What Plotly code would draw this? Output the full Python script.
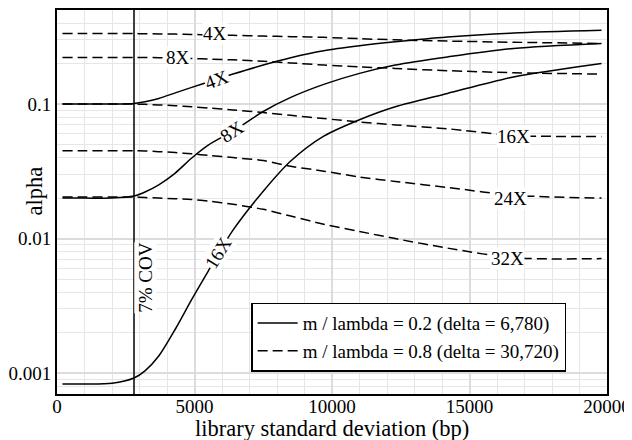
import math
import plotly.graph_objects as go

# ---- data ----
x_bp = [200, 1000, 2000, 2800, 3200, 3700, 4300, 4900, 5500, 6400, 7500, 8500, 9700, 11000, 12300, 14200, 16600, 19800]

# m / lambda = 0.2 (solid)
solid_4x = [0.100, 0.100, 0.100, 0.101, 0.104, 0.110, 0.121, 0.133, 0.146, 0.167, 0.195, 0.221, 0.249, 0.271, 0.290, 0.315, 0.337, 0.353]
solid_8x = [0.0200, 0.0200, 0.0200, 0.0207, 0.0222, 0.0251, 0.0307, 0.0397, 0.0495, 0.0630, 0.088, 0.112, 0.140, 0.169, 0.195, 0.224, 0.259, 0.282]
solid_16x = [0.00083, 0.00083, 0.00084, 0.00092, 0.00104, 0.00134, 0.00212, 0.00353, 0.00574, 0.01155, 0.0225, 0.0377, 0.0577, 0.0765, 0.0955, 0.120, 0.159, 0.200]

# m / lambda = 0.8 (dashed)
dashed_4x = [0.334, 0.334, 0.334, 0.334, 0.333, 0.332, 0.331, 0.329, 0.327, 0.324, 0.320, 0.317, 0.313, 0.306, 0.300, 0.294, 0.288, 0.282]
dashed_8x = [0.222, 0.222, 0.222, 0.222, 0.222, 0.221, 0.220, 0.218, 0.216, 0.213, 0.208, 0.202, 0.195, 0.189, 0.184, 0.177, 0.171, 0.167]
dashed_16x = [0.100, 0.100, 0.100, 0.100, 0.0995, 0.0985, 0.0972, 0.0955, 0.0935, 0.0905, 0.0865, 0.0825, 0.078, 0.0735, 0.0700, 0.0655, 0.0585, 0.0573]
dashed_24x = [0.045, 0.045, 0.045, 0.045, 0.0448, 0.0443, 0.0436, 0.0427, 0.0415, 0.0400, 0.0380, 0.0345, 0.0317, 0.0287, 0.0266, 0.0240, 0.0210, 0.0200]
dashed_32x = [0.0204, 0.0204, 0.0204, 0.0204, 0.0202, 0.0200, 0.0198, 0.0195, 0.0190, 0.0180, 0.0165, 0.0147, 0.0128, 0.0113, 0.0100, 0.0085, 0.0072, 0.0071]

cov_x = 2800
cov_label = "7% COV"

legend_solid = "m / lambda = 0.2 (delta = 6,780)"
legend_dashed = "m / lambda = 0.8 (delta = 30,720)"

x_title = "library standard deviation (bp)"
y_title = "alpha"

x_ticks = [0, 5000, 10000, 15000, 20000]
x_tick_text = ["0", "5000", "10000", "15000", "20000"]
y_ticks = [0.001, 0.01, 0.1]
y_tick_text = ["0.001", "0.01", "0.1"]

# curve labels: (text, x, y, angle)
curve_labels = [
    ("4X", 5756, 0.336, 0),
    ("8X", 4411, 0.221, 0),
    ("4X", 5829, 0.151, -20),
    ("8X", 6364, 0.0624, -33),
    ("16X", 5876, 0.00783, -58),
    ("16X", 16593, 0.0571, 0),
    ("24X", 16484, 0.0198, 0),
    ("32X", 16375, 0.00711, 0),
]

FONT = "Liberation Serif"
FS = 19
FS_TITLE = 22.5

fig = go.Figure()

solid_series = [solid_4x, solid_8x, solid_16x]
dashed_series = [dashed_4x, dashed_8x, dashed_16x, dashed_24x, dashed_32x]

for i, ys in enumerate(solid_series):
    fig.add_trace(go.Scatter(
        x=x_bp, y=ys, mode="lines", line=dict(color="black", width=1.5, shape="spline", smoothing=0.8),
        name=legend_solid, showlegend=(i == 0), legendgroup="solid"))
for i, ys in enumerate(dashed_series):
    fig.add_trace(go.Scatter(
        x=x_bp, y=ys, mode="lines", line=dict(color="black", width=1.5, dash="10px,5px", shape="spline", smoothing=0.8),
        name=legend_dashed, showlegend=(i == 0), legendgroup="dashed"))

fig.add_vline(x=cov_x, line=dict(color="black", width=1.5))

for text, xv, yv, ang in curve_labels:
    fig.add_annotation(x=xv, y=math.log10(yv), text=text, showarrow=False, textangle=ang,
                       bgcolor="white", borderpad=0, font=dict(family=FONT, size=FS, color="black"))

fig.add_annotation(x=3211, y=-2.289, text=cov_label, showarrow=False, textangle=-90,
                   bgcolor="white", borderpad=0, font=dict(family=FONT, size=FS, color="black"))

# axis titles placed as in the reference
fig.add_annotation(x=-0.067, y=0.529, xref="paper", yref="paper", text=y_title, showarrow=False,
                   textangle=-90, font=dict(family=FONT, size=FS_TITLE, color="black"))
fig.add_annotation(x=0.5, y=-0.091, xref="paper", yref="paper", yanchor="middle", text=x_title,
                   showarrow=False, font=dict(family=FONT, size=FS_TITLE, color="black"))

minor_y = [m * 10 ** e for e in (-4, -3, -2, -1) for m in range(2, 10)]

fig.update_layout(
    width=632, height=440,
    margin=dict(l=49, r=33, t=2, b=54),
    paper_bgcolor="white", plot_bgcolor="white",
    font=dict(family=FONT, size=FS, color="black"),
    showlegend=True,
    legend=dict(x=0.353, y=0.148, xanchor="left", yanchor="middle",
                bgcolor="white", bordercolor="black", borderwidth=1.5,
                font=dict(family=FONT, size=FS), tracegroupgap=0, itemwidth=40),
    xaxis=dict(range=[0, 20000], tickvals=x_ticks, ticktext=x_tick_text, ticks="", showline=True,
               linecolor="black", automargin=False, ticklabelstandoff=-6,
               linewidth=2, mirror=True, showgrid=True, gridcolor="#dcdcdc", gridwidth=2,
               zeroline=False, tickfont=dict(family=FONT, size=FS),
               minor=dict(dtick=1000, tick0=0, showgrid=True, gridcolor="#e6e6e6", gridwidth=1)),
    yaxis=dict(type="log", range=[math.log10(0.0007), math.log10(0.5)], tickvals=y_ticks,
               ticktext=y_tick_text, ticks="", showline=True, linecolor="black", linewidth=2,
               automargin=False, tickfont=dict(family=FONT, size=FS),
               mirror=True, showgrid=True, gridcolor="#dcdcdc", gridwidth=2, zeroline=False,
               minor=dict(tickvals=minor_y, showgrid=True, gridcolor="#e6e6e6", gridwidth=1)),
)

fig.write_html("out.html")
